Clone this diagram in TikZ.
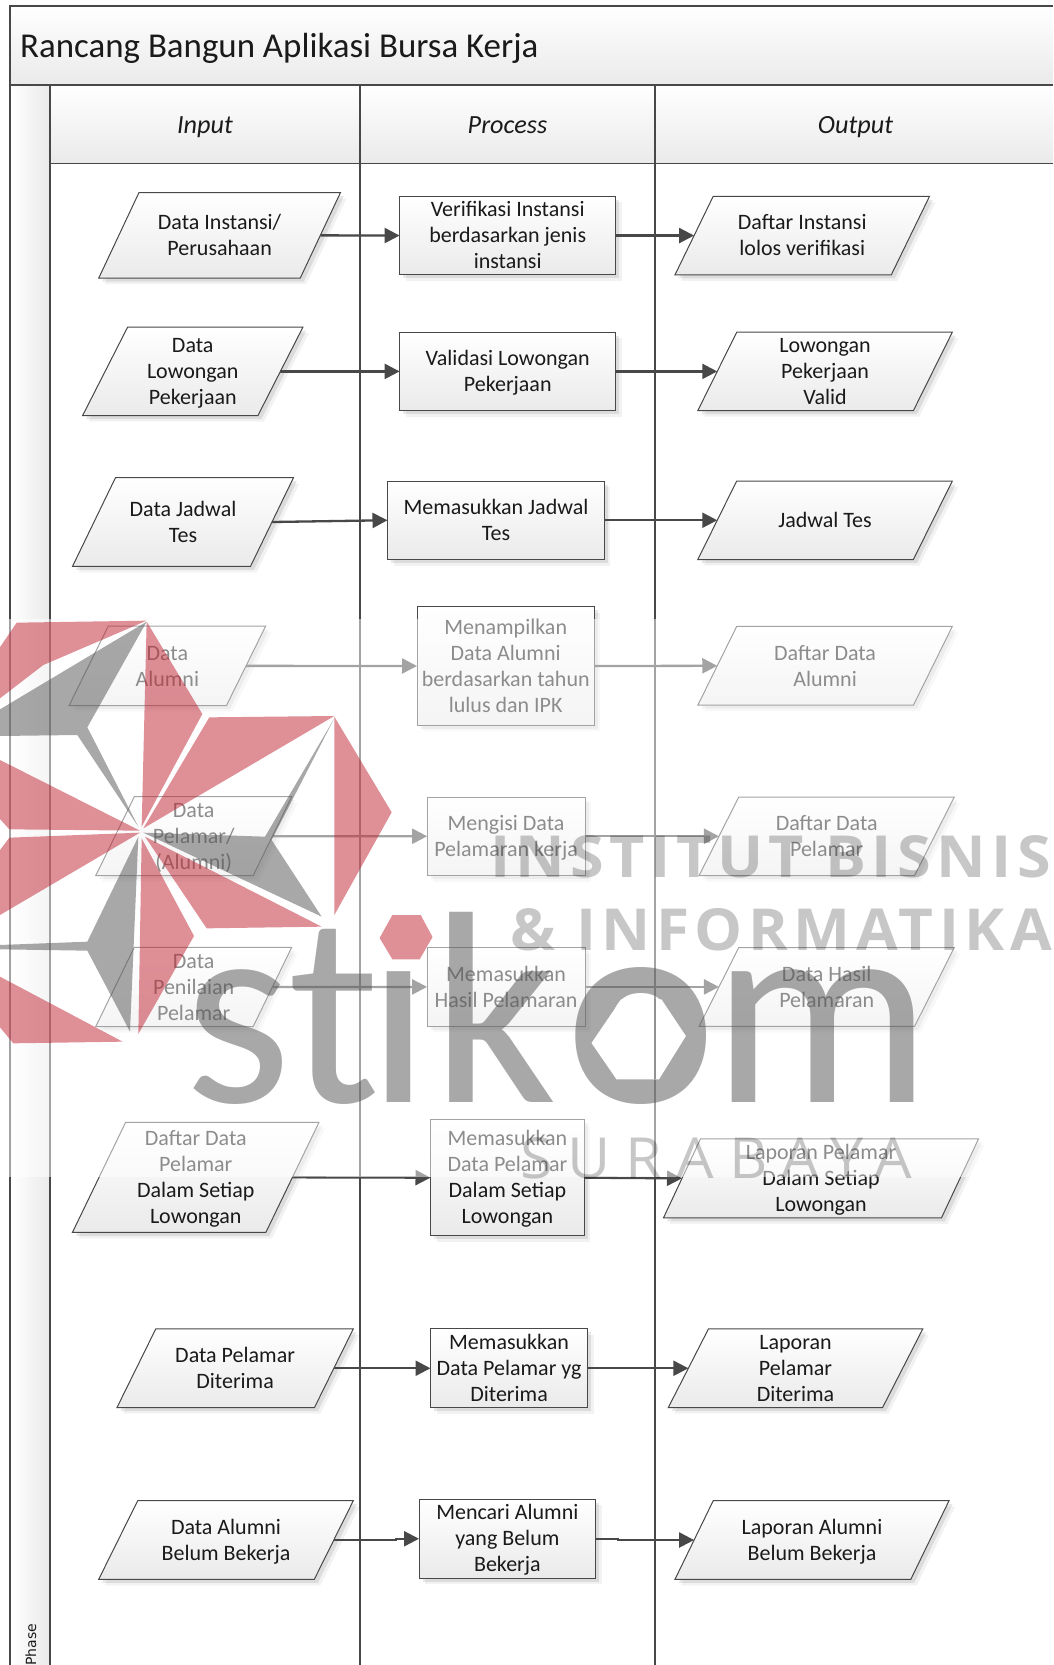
\documentclass[tikz,border=0pt]{standalone}
\usepackage{fontspec}
\usepackage{graphicx}
\setmainfont{Carlito}
\newfontfamily\wmfont[LetterSpace=9]{Open Sans}
\newfontfamily\wmwide[LetterSpace=25]{Open Sans}
\newfontfamily\phasefont{DejaVu Sans}
\usetikzlibrary{arrows.meta,shadows}
\definecolor{ln}{HTML}{484848}
\definecolor{ink}{HTML}{1A1A1A}
\definecolor{lowgrey}{HTML}{EAEAEA}
\definecolor{logored}{HTML}{C0202F}
\definecolor{logogrey}{HTML}{525252}
\tikzset{
  frameline/.style={draw=ln,line width=1.3pt},
  bandshade/.style={top color=white,bottom color=lowgrey},
  softshadow/.style={drop shadow={shadow xshift=6pt,shadow yshift=-6pt,opacity=.05,fill=black},
                     drop shadow={shadow xshift=3.5pt,shadow yshift=-3.5pt,opacity=.09,fill=black}},
  pshape/.style={draw=ln,line width=1pt,top color=white,bottom color=lowgrey,softshadow},
  lbl/.style={font=\fontsize{22}{26}\selectfont,text=ink,inner sep=0pt,outer sep=0pt},
  ptext/.style={lbl},
  boxnode/.style={lbl,rectangle,draw=ln,line width=1pt,top color=white,bottom color=lowgrey,softshadow},
  headnode/.style={font=\fontsize{26.2}{30}\selectfont\itshape,text=ink,inner sep=0pt,outer sep=0pt,anchor=base},
  conn/.style={draw=ln,line width=2.3pt,-{Triangle[length=15pt,width=15pt]}},
  lred/.style={fill=logored,fill opacity=.5},
  lgrey/.style={fill=logogrey,fill opacity=.5},
  wm/.style={text=black,text opacity=.22,inner sep=0pt,outer sep=0pt,anchor=base west},
}
\newcommand{\lines}[1]{\raisebox{-7.2pt}[0pt][0pt]{\begin{tabular}{@{}c@{}}#1\end{tabular}}}
\newcommand{\paranode}[7]{%
  \path[pshape] (#2,#6) -- (#3,#5) -- (#4,#5) -- ({#2+#4-#3},#6) -- cycle;
  \node[ptext,minimum width={(#4-#3)*1pt},minimum height={(#6-#5)*1pt}] (#1) at ({(#2+#4)/2},{(#5+#6)/2}) {\lines{#7}};
}
\newcommand{\boxn}[6]{%
  \node[boxnode,minimum width={(#3-#2)*1pt},minimum height={(#5-#4)*1pt}] (#1) at ({(#2+#3)/2},{(#4+#5)/2}) {\lines{#6}};
}
\begin{document}
\begin{tikzpicture}[x=1pt,y=-1pt]
\path[use as bounding box,clip] (0,0) rectangle (1053,1665);
\fill[white] (0,0) rectangle (1053,1665);
% frame
\shade[left color=white,right color=lowgrey] (10,85) rectangle (50,1665);
\shade[bandshade] (10,6) rectangle (1053,85);
\shade[bandshade] (50,85) rectangle (1053,163.5);
\draw[frameline] (1053,6) -- (10,6) -- (10,1665);
\draw[frameline] (10,85) -- (1053,85);
\draw[frameline] (50,163.5) -- (1053,163.5);
\draw[frameline] (50,85) -- (50,1665);
\draw[frameline] (360,85) -- (360,1665);
\draw[frameline] (655,85) -- (655,1665);
\node[font=\fontsize{34.9}{40}\selectfont,text=ink,anchor=base west,inner sep=0pt] (title) at (20,57) {Rancang Bangun Aplikasi Bursa Kerja};
\node[headnode] (hi) at (205,133) {Input};
\node[headnode] (hp) at (507.5,133) {Process};
\node[headnode] (ho) at (855.5,133) {Output};
\node[font=\phasefont\fontsize{14}{18}\selectfont,text=ink,rotate=90,anchor=base west,inner sep=0pt] (phase) at (36,1666) {Phase};
% input
\paranode{i1}{98.7}{139}{340.5}{192.5}{278.2}{Data Instansi/\\Perusahaan}
\paranode{i2}{82.6}{127.6}{302.9}{327.2}{415.6}{Data\\Lowongan\\Pekerjaan}
\paranode{i3}{72.5}{115.5}{293.5}{477.6}{566.4}{Data Jadwal\\Tes}
\paranode{i4}{69}{108.3}{265.7}{626}{705.7}{Data\\Alumni}
\paranode{i5}{95.7}{134.3}{291.7}{796.7}{875.7}{Data\\Pelamar/\\(Alumni)}
\paranode{i6}{95.7}{134.3}{291.7}{947.3}{1026.7}{Data\\Penilaian\\Pelamar}
\paranode{i7}{72.5}{125.6}{319}{1122.3}{1232.3}{Daftar Data\\Pelamar\\Dalam Setiap\\Lowongan}
\paranode{i8}{116.9}{155.8}{353.3}{1328.8}{1407.7}{Data Pelamar\\Diterima}
\paranode{i9}{98.7}{137.7}{353.3}{1500.7}{1579.3}{Data Alumni\\Belum Bekerja}
% process
\boxn{b1}{399.6}{615.8}{196.3}{274.8}{Verifikasi Instansi\\berdasarkan jenis\\instansi}
\boxn{b2}{399.6}{615.8}{332.2}{410.6}{Validasi Lowongan\\Pekerjaan}
\boxn{b3}{387.5}{604.4}{481}{559.5}{Memasukkan Jadwal\\Tes}
\boxn{b4}{417}{594.4}{606.9}{725.1}{Menampilkan\\Data Alumni\\berdasarkan tahun\\lulus dan IPK}
\boxn{b5}{427.1}{585}{797}{875.5}{Mengisi Data\\Pelamaran kerja}
\boxn{b6}{427.1}{585}{947.5}{1026.3}{Memasukkan\\Hasil Pelamaran}
\boxn{b7}{430.5}{584.3}{1119.8}{1235.5}{Memasukkan\\Data Pelamar\\Dalam Setiap\\Lowongan}
\boxn{b8}{430.5}{587.6}{1328.8}{1407.7}{Memasukkan\\Data Pelamar yg\\Diterima}
\boxn{b9}{419}{595.7}{1499.3}{1578.2}{Mencari Alumni\\yang Belum\\Bekerja}
% output
\paranode{o1}{675}{713.2}{929.5}{196.3}{274.8}{Daftar Instansi\\lolos verifikasi}
\paranode{o2}{697.8}{736.7}{952.3}{332.2}{410.6}{Lowongan\\Pekerjaan\\Valid}
\paranode{o3}{697.8}{736.7}{952.3}{481}{559.5}{Jadwal Tes}
\paranode{o4}{697.8}{736.7}{952.3}{626.4}{705.2}{Daftar Data\\Alumni}
\paranode{o5}{699.1}{738.8}{954.3}{797}{875.5}{Daftar Data\\Pelamar}
\paranode{o6}{699.1}{738.8}{954.3}{947.5}{1026.3}{Data Hasil\\Pelamaran}
\paranode{o7}{663.5}{700.5}{978.5}{1138.9}{1217.8}{Laporan Pelamar\\Dalam Setiap\\Lowongan}
\paranode{o8}{668.2}{708.5}{922.8}{1328.8}{1407.7}{Laporan\\Pelamar\\Diterima}
\paranode{o9}{675}{713.2}{949}{1500.7}{1579.3}{Laporan Alumni\\Belum Bekerja}
% connectors
\foreach \a/\b in {i1/b1,i2/b2,i3/b3,i4/b4,i5/b5,i6/b6,i7/b7,i8/b8,b1/o1,b2/o2,b3/o3,b4/o4,b5/o5,b6/o6,b7/o7,b8/o8}
  \draw[conn] (\a.east) -- (\b.west);
\coordinate (j1) at (396,1540);
\coordinate (j2) at (618,1538.75);
\draw[conn] (i9.east) -- (j1) |- (b9.west);
\draw[conn] (b9.east) -- (j2) |- (o9.west);
% watermark veil
\fill[white,fill opacity=.5] (0,619) rectangle (1053,1177);
% watermark mark
\begin{scope}[shift={(0,610)},x=0.33333pt,y=-0.33333pt]
\path[lred] (440,32) -- (50,38) -- (-60,200) -- (0,265) -- (130,165) -- cycle;
\path[lgrey] (440,35) -- (262,352) -- (415,650) -- (232,375) -- (0,378) -- (0,298) -- cycle;
\path[lred] (440,35) -- (607,312) -- (425,650) -- cycle;
\path[lred] (628,322) -- (1003,318) -- (430,655) -- cycle;
\path[lgrey] (1003,325) -- (795,680) -- (430,668) -- (965,920) -- (815,690) -- cycle;
\path[lred] (1003,320) -- (1175,607) -- (1003,915) -- cycle;
\path[lred] (435,680) -- (965,950) -- (620,955) -- cycle;
\path[lred] (425,685) -- (582,978) -- (415,1272) -- cycle;
\path[lgrey] (415,680) -- (262,995) -- (0,1005) -- (0,1018) -- (262,1022) -- (390,1265) -- cycle;
\path[lred] (420,662) -- (0,450) -- (-60,560) -- (28,658) -- cycle;
\path[lred] (420,668) -- (28,683) -- (-60,800) -- (0,915) -- cycle;
\path[lred] (0,1100) -- (368,1295) -- (40,1300) -- (-60,1180) -- cycle;
\end{scope}
\path[lred] (379.6,938) -- (392.4,915) -- (420.7,915) -- (432.5,937) -- (419.7,959.3) -- (392.4,959.3) -- cycle;
\node[font=\fontsize{274}{274}\selectfont,text=logogrey,text opacity=.5,inner sep=0pt,outer sep=0pt,anchor=base west] (logo) at (184,1102) {st\kern-12pt\char"0131\kern2pt k\kern10pt{\bfseries o}\kern-2pt m};
\fill[white] (591.5,1043) -- (621.2,999.3) -- (661.4,999.3) -- (685.9,1036) -- (659,1079.3) -- (616.5,1079.3) -- cycle;
\draw[draw=ln!60!white,line width=1.3pt] (655,999.3) -- (655,1079.3);
\node[wm] (w1) at (490,877) {\resizebox{561pt}{42pt}{\wmfont\bfseries INSTITUT BISNIS}};
\node[wm] (w2) at (510,950) {\resizebox{542pt}{42pt}{\wmfont\bfseries \& INFORMATIKA}};
\node[wm] (w3) at (520,1178) {\resizebox{392pt}{41pt}{\wmwide SURABAYA}};
\end{tikzpicture}
\end{document}
